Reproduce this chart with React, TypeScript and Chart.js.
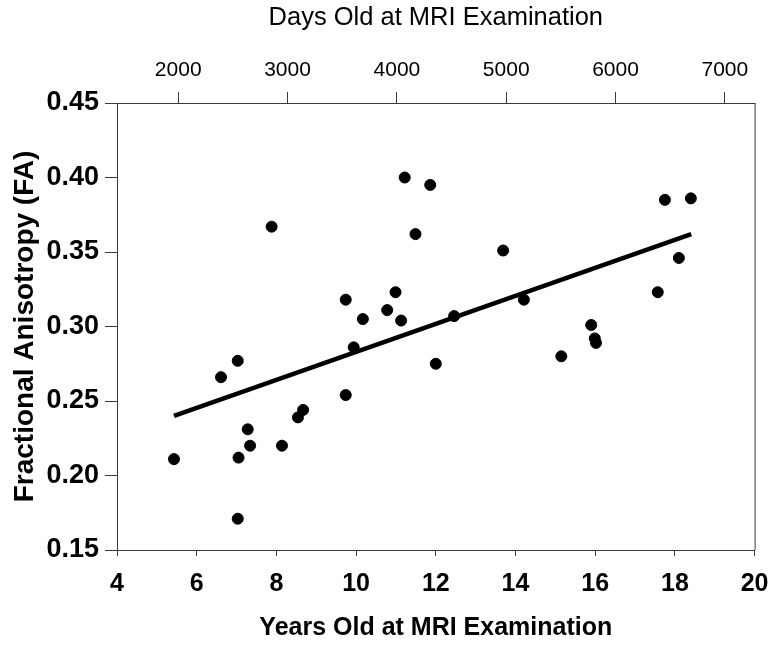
import React, { useEffect, useRef } from "react";
import { Chart, registerables } from "chart.js";

Chart.register(...registerables);

// Age in years at MRI examination
const AGE_YEARS = [
  5.43, 6.61, 7.03, 7.28, 7.05, 7.34, 7.03, 7.88, 8.14, 8.54, 8.67,
  9.74, 9.74, 9.94, 10.17, 10.78, 10.99, 11.13, 11.22, 11.49, 11.86,
  12.0, 12.46, 13.69, 14.21, 15.15, 15.9, 15.99, 16.02, 17.57, 17.75,
  18.1, 18.4,
];
// Fractional anisotropy
const FA_VALUES = [
  0.211, 0.266, 0.277, 0.231, 0.212, 0.22, 0.171, 0.367, 0.22, 0.239, 0.244,
  0.254, 0.318, 0.286, 0.305, 0.311, 0.323, 0.304, 0.4, 0.362, 0.395,
  0.275, 0.307, 0.351, 0.318, 0.28, 0.301, 0.292, 0.289, 0.323, 0.385,
  0.346, 0.386,
];
// Regression line end points
const TREND_X = [5.43, 18.41];
const TREND_Y = [0.24, 0.362];

const YEAR_TICKS = [4, 6, 8, 10, 12, 14, 16, 18, 20];
const DAY_TICKS = [2000, 3000, 4000, 5000, 6000, 7000];
const FA_TICKS = [0.15, 0.2, 0.25, 0.3, 0.35, 0.4, 0.45];

const YEAR_RANGE = [4, 20];
const DAY_RANGE = [1440, 7272];
const FA_RANGE = [0.15, 0.45];

const FONT = "'Liberation Sans', Arial, Helvetica, sans-serif";
const AXIS_COLOR = "#3a3a3a";

export default function App() {
  const ref = useRef<HTMLCanvasElement | null>(null);

  useEffect(() => {
    if (!ref.current) return;
    Chart.defaults.color = "#000";
    const scatter = AGE_YEARS.map((x, i) => ({ x, y: FA_VALUES[i] }));
    const trend = TREND_X.map((x, i) => ({ x, y: TREND_Y[i] }));

    const frame = {
      id: "frame",
      afterDatasetsDraw(chart: any) {
        const { ctx, chartArea } = chart;
        ctx.save();
        ctx.strokeStyle = AXIS_COLOR;
        ctx.lineWidth = 1;
        ctx.beginPath();
        ctx.moveTo(chartArea.right + 0.5, chartArea.top);
        ctx.lineTo(chartArea.right + 0.5, chartArea.bottom);
        ctx.stroke();
        ctx.restore();
      },
    };

    const chart = new Chart(ref.current, {
      type: "scatter",
      data: {
        datasets: [
          {
            type: "scatter",
            data: scatter,
            backgroundColor: "#000",
            borderColor: "#000",
            pointRadius: 5.5,
            pointHoverRadius: 5.5,
            xAxisID: "x",
            yAxisID: "y",
            order: 1,
          },
          {
            type: "line",
            data: trend,
            borderColor: "#000",
            borderWidth: 4.5,
            pointRadius: 0,
            fill: false,
            xAxisID: "x",
            yAxisID: "y",
            order: 2,
          },
        ],
      },
      options: {
        animation: false,
        responsive: false,
        maintainAspectRatio: false,
        layout: { padding: { left: 0, right: 25, top: 0, bottom: 0 } },
        plugins: {
          legend: { display: false },
          tooltip: { enabled: false },
          title: { display: false },
        },
        scales: {
          x: {
            type: "linear",
            position: "bottom",
            min: YEAR_RANGE[0],
            max: YEAR_RANGE[1],
            afterBuildTicks: (s: any) => {
              s.ticks = YEAR_TICKS.map((v) => ({ value: v }));
            },
            afterFit: (s: any) => {
              s.height = 100;
            },
            grid: {
              display: true,
              drawOnChartArea: false,
              drawTicks: true,
              tickLength: 6,
              tickColor: AXIS_COLOR,
            },
            border: { display: true, color: AXIS_COLOR, width: 1 },
            ticks: {
              padding: 13.5,
              maxRotation: 0,
              font: { family: FONT, size: 25, weight: "bold" },
              color: "#000",
            },
            title: {
              display: true,
              text: "Years Old at MRI Examination",
              color: "#000",
              font: { family: FONT, size: 25, weight: "bold" },
              padding: { top: 0, bottom: 7 },
            },
          },
          xTop: {
            type: "linear",
            position: "top",
            min: DAY_RANGE[0],
            max: DAY_RANGE[1],
            afterBuildTicks: (s: any) => {
              s.ticks = DAY_TICKS.map((v) => ({ value: v }));
            },
            afterFit: (s: any) => {
              s.height = 103;
            },
            grid: {
              display: true,
              drawOnChartArea: false,
              drawTicks: true,
              tickLength: 11,
              tickColor: AXIS_COLOR,
            },
            border: { display: true, color: AXIS_COLOR, width: 1 },
            ticks: {
              padding: 9.2,
              maxRotation: 0,
              font: { family: FONT, size: 21, weight: "normal" },
              color: "#000",
              callback: (v: any) => String(v),
            },
            title: {
              display: true,
              text: "Days Old at MRI Examination",
              color: "#000",
              font: { family: FONT, size: 25.5, weight: "normal" },
              padding: { top: 2.7, bottom: 0 },
            },
          },
          y: {
            type: "linear",
            position: "left",
            min: FA_RANGE[0],
            max: FA_RANGE[1],
            afterBuildTicks: (s: any) => {
              s.ticks = FA_TICKS.map((v) => ({ value: v }));
            },
            afterFit: (s: any) => {
              s.width = 117;
            },
            grid: {
              display: true,
              drawOnChartArea: false,
              drawTicks: true,
              tickLength: 12,
              tickColor: AXIS_COLOR,
            },
            border: { display: true, color: AXIS_COLOR, width: 1 },
            ticks: {
              padding: 6,
              font: { family: FONT, size: 27, weight: "bold" },
              color: "#000",
              callback: (v: any) => Number(v).toFixed(2),
            },
            title: {
              display: true,
              text: "Fractional Anisotropy (FA)",
              color: "#000",
              font: { family: FONT, size: 28, weight: "bold" },
              padding: { top: 8.2, bottom: 0 },
            },
          },
        },
      },
      plugins: [frame],
    } as any);

    return () => chart.destroy();
  }, []);

  return (
    <div
      style={{
        position: "absolute",
        left: 0,
        top: 0,
        width: 782,
        height: 650,
        background: "#fff",
      }}
    >
      <canvas ref={ref} width={782} height={650} />
    </div>
  );
}
